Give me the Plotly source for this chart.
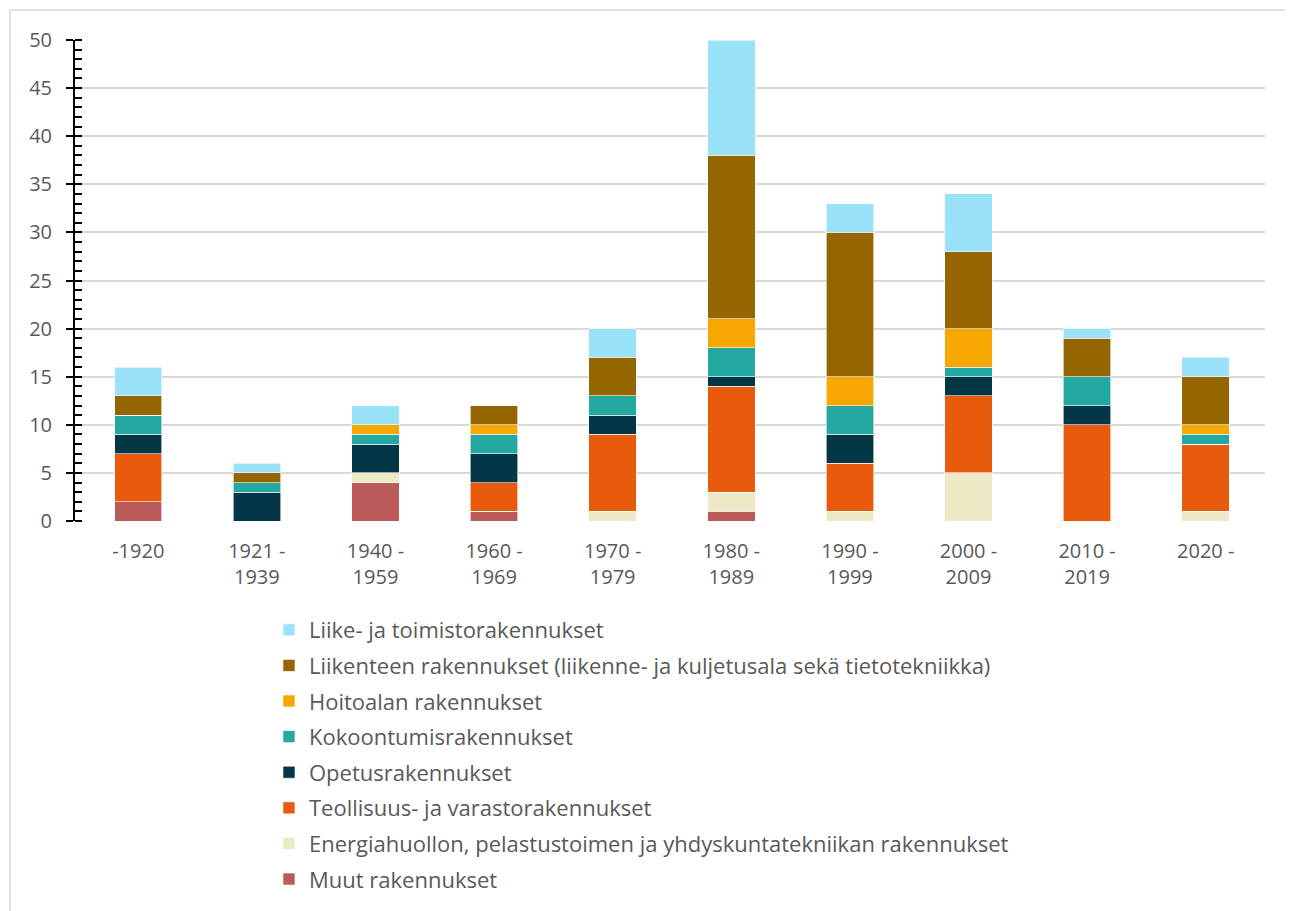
import plotly.graph_objects as go

# Categories (decades of construction)
periods = ["-1920", "1921 -<br>1939", "1940 -<br>1959", "1960 -<br>1969", "1970 -<br>1979",
           "1980 -<br>1989", "1990 -<br>1999", "2000 -<br>2009", "2010 -<br>2019", "2020 -"]

# Series values, bottom of stack first
muut = [2, 0, 4, 1, 0, 1, 0, 0, 0, 0]
energia = [0, 0, 1, 0, 1, 2, 1, 5, 0, 1]
teollisuus = [5, 0, 0, 3, 8, 11, 5, 8, 10, 7]
opetus = [2, 3, 3, 3, 2, 1, 3, 2, 2, 0]
kokoontumis = [2, 1, 1, 2, 2, 3, 3, 1, 3, 1]
hoitoala = [0, 0, 1, 1, 0, 3, 3, 4, 0, 1]
liikenne = [2, 1, 0, 2, 4, 17, 15, 8, 4, 5]
liike = [3, 1, 2, 0, 3, 12, 3, 6, 1, 2]

series = [
    ("Muut rakennukset", muut, "#BB5B59"),
    ("Energiahuollon, pelastustoimen ja yhdyskuntatekniikan rakennukset", energia, "#EDE9C4"),
    ("Teollisuus- ja varastorakennukset", teollisuus, "#E95B0C"),
    ("Opetusrakennukset", opetus, "#033746"),
    ("Kokoontumisrakennukset", kokoontumis, "#24A8A2"),
    ("Hoitoalan rakennukset", hoitoala, "#F6A800"),
    ("Liikenteen rakennukset (liikenne- ja kuljetusala sekä tietotekniikka)", liikenne, "#956600"),
    ("Liike- ja toimistorakennukset", liike, "#99E2F9"),
]

FONT = "Open Sans, sans-serif"
TEXT = "#595959"

fig = go.Figure()
for i, (name, vals, col) in enumerate(series):
    fig.add_trace(go.Bar(
        x=periods, y=vals, name=name, legendgroup=str(i), legendrank=100 - i,
        marker=dict(color=col, line=dict(color="white", width=0.6)),
    ))

# invisible helper trace on the second y axis (for the inner major ticks)
fig.add_trace(go.Scatter(x=[periods[0]], y=[0], yaxis="y2", mode="markers",
                         marker=dict(opacity=0), showlegend=False, hoverinfo="skip"))

# page body adds an 8px offset, so the figure is drawn slightly smaller
fig.update_layout(
    width=1285, height=903,
    barmode="stack", bargap=0.6,
    paper_bgcolor="white", plot_bgcolor="white",
    font=dict(family=FONT, color=TEXT, size=20),
    margin=dict(l=67, r=28, t=32, b=390, autoexpand=False),
    xaxis=dict(showline=False, ticks="", tickfont=dict(size=20, color=TEXT),
               ticklabelstandoff=16),
    yaxis=dict(range=[0, 50], dtick=5, showgrid=True, gridcolor="#D9D9D9", gridwidth=1.5,
               zeroline=False, showline=True, linecolor="black", linewidth=2,
               ticks="outside", ticklen=7, tickwidth=2, tickcolor="black",
               minor=dict(dtick=1, ticks="inside", ticklen=7, tickwidth=1.5,
                          tickcolor="black", showgrid=False),
               tickfont=dict(size=20, color=TEXT), ticklabelstandoff=10),
    yaxis2=dict(range=[0, 50], dtick=5, overlaying="y", side="left", showgrid=False,
                zeroline=False, showticklabels=False, ticks="inside", ticklen=7,
                tickwidth=2, tickcolor="black"),
    legend=dict(orientation="v", x=0.163, xanchor="left", y=-0.183, yanchor="top",
                tracegroupgap=4, font=dict(size=22, color=TEXT), itemwidth=30),
    shapes=[dict(type="rect", xref="paper", yref="paper",
                 x0=-65 / 1190, x1=1.1, y0=-1.2, y1=1 + 30 / 481,
                 line=dict(color="#D9D9D9", width=1.5), fillcolor="rgba(0,0,0,0)", layer="below")],
)

fig.write_html("out.html")
